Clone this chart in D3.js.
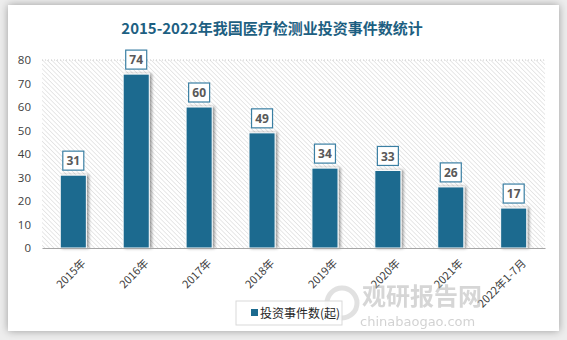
<!DOCTYPE html>
<html><head><meta charset="utf-8">
<script src="https://cdn.jsdelivr.net/npm/d3@7"></script>
<style>
body{margin:0;background:#ededed;}
svg{display:block;}
</style></head>
<body>
<svg id="c" width="567" height="340"></svg>
<script>
const categories = ["2015年","2016年","2017年","2018年","2019年","2020年","2021年","2022年1-7月"];
const values = [31,74,60,49,34,33,26,17];
const yTicks = [0,10,20,30,40,50,60,70,80];
const title = "2015-2022年我国医疗检测业投资事件数统计";
const seriesName = "投资事件数(起)";

const svg = d3.select("#c");
const defs = svg.append("defs");
const f = defs.append("filter").attr("id","sh").attr("x","-20%").attr("y","-20%").attr("width","140%").attr("height","140%");
f.append("feGaussianBlur").attr("in","SourceAlpha").attr("stdDeviation",4);
f.append("feOffset").attr("dx",0).attr("dy",0).attr("result","b");
f.append("feComponentTransfer").append("feFuncA").attr("type","linear").attr("slope",0.35);
const fm = f.append("feMerge"); fm.append("feMergeNode"); fm.append("feMergeNode").attr("in","SourceGraphic");
const fb = defs.append("filter").attr("id","bs").attr("x","-30%").attr("y","-10%").attr("width","160%").attr("height","120%");
fb.append("feGaussianBlur").attr("in","SourceAlpha").attr("stdDeviation",1.5);
fb.append("feOffset").attr("dx",1.5).attr("dy",0).attr("result","o");
fb.append("feComponentTransfer").append("feFuncA").attr("type","linear").attr("slope",0.4);
const fbm = fb.append("feMerge"); fbm.append("feMergeNode"); fbm.append("feMergeNode").attr("in","SourceGraphic");

const pat = defs.append("pattern").attr("id","hatch").attr("patternUnits","userSpaceOnUse")
  .attr("width",3.2).attr("height",3.2).attr("patternTransform","rotate(-45)");
pat.append("rect").attr("width",3.2).attr("height",3.2).attr("fill","#ffffff");
pat.append("line").attr("x1",0).attr("y1",0).attr("x2",0).attr("y2",3.2).attr("stroke","#d9d9d9").attr("stroke-width",1.2);

// card
svg.append("rect").attr("x",8).attr("y",5).attr("width",551).attr("height",326).attr("fill","#fff").attr("filter","url(#sh)");

const m = {l:42, r:545, t:60, b:248};
const x = d3.scaleBand().domain(categories).range([m.l,m.r]).paddingInner(0.585).paddingOuter(0.29);
const y = d3.scaleLinear().domain([0,80]).range([m.b,m.t]);

svg.append("rect").attr("x",m.l).attr("y",m.t).attr("width",m.r-m.l).attr("height",m.b-m.t).attr("fill","url(#hatch)");

svg.append("text").attr("x",272).attr("y",34).attr("text-anchor","middle")
  .attr("font-family","'Noto Sans CJK SC','DejaVu Serif',serif").attr("font-weight","bold")
  .attr("font-size",15).attr("fill","#1d5f82").text(title);

// y axis
const ya = svg.append("g").attr("transform",`translate(${m.l},0)`)
  .call(d3.axisLeft(y).tickValues(yTicks).tickSize(0).tickPadding(11));
ya.select(".domain").remove();
ya.selectAll("text").attr("font-family","'Open Sans',Arial,sans-serif").attr("font-size",11.5).attr("fill","#404040");

// top dotted line
svg.append("line").attr("x1",m.l).attr("x2",m.r).attr("y1",y(80)).attr("y2",y(80))
  .attr("stroke","#c8c8c8").attr("stroke-dasharray","1,2");

// bars
svg.append("g").selectAll("rect").data(values).join("rect")
  .attr("x",(d,i)=>x(categories[i])).attr("y",d=>y(d))
  .attr("width",x.bandwidth()).attr("height",d=>y(0)-y(d))
  .attr("fill","#1b6a8f").attr("stroke","#ffffff").attr("stroke-width",1).attr("filter","url(#bs)");

// x axis
const xa = svg.append("g").attr("transform",`translate(0,${m.b})`)
  .call(d3.axisBottom(x).tickSize(0).tickPadding(8));
xa.select(".domain").attr("stroke","#a6a6a6").attr("stroke-width",1.2);
xa.selectAll("text").attr("font-family","'Noto Sans CJK SC',sans-serif").attr("font-size",11).attr("fill","#404040")
  .attr("text-anchor","end").attr("dy","0.3em").attr("transform","translate(5,8) rotate(-45)");

// labels
const lg = svg.append("g").selectAll("g").data(values).join("g")
  .attr("transform",(d,i)=>`translate(${x(categories[i])+x.bandwidth()/2},${y(d)-14})`);
lg.append("rect").attr("x",-10.5).attr("y",-10).attr("width",21).attr("height",19)
  .attr("fill","#fff").attr("stroke","#3a7fa3").attr("stroke-width",1.2);
lg.append("text").attr("text-anchor","middle").attr("dy","0.36em")
  .attr("font-family","'Open Sans',Arial,sans-serif").attr("font-weight","bold").attr("font-size",12)
  .attr("fill","#595959").text(d=>d);

// watermark
svg.append("text").attr("x",362).attr("y",305).attr("text-anchor","start")
  .attr("font-family","'Noto Sans CJK SC',sans-serif").attr("font-weight","bold").attr("font-size",24)
  .attr("fill","#b5b5b5").attr("opacity",0.55).text("观研报告网");
svg.append("text").attr("x",360).attr("y",326).attr("font-family","'DejaVu Sans',sans-serif")
  .attr("font-size",13).attr("fill","#b5b5b5").attr("opacity",0.6).text("chinabaogao.com");
svg.append("circle").attr("cx",342).attr("cy",303).attr("r",15).attr("fill","none")
  .attr("stroke","#c4c4c4").attr("stroke-width",5).attr("opacity",0.5);

// legend
svg.append("rect").attr("x",236).attr("y",301).attr("width",106).attr("height",24).attr("fill","#fff").attr("fill-opacity",0.8).attr("stroke","#d9d9d9");
svg.append("rect").attr("x",251).attr("y",309).attr("width",7).attr("height",7).attr("fill","#1b6a8f");
svg.append("text").attr("x",260).attr("y",317.5).attr("font-family","'Noto Sans CJK SC',sans-serif")
  .attr("font-size",12).attr("fill","#262626").text(seriesName);
</script>
</body></html>
